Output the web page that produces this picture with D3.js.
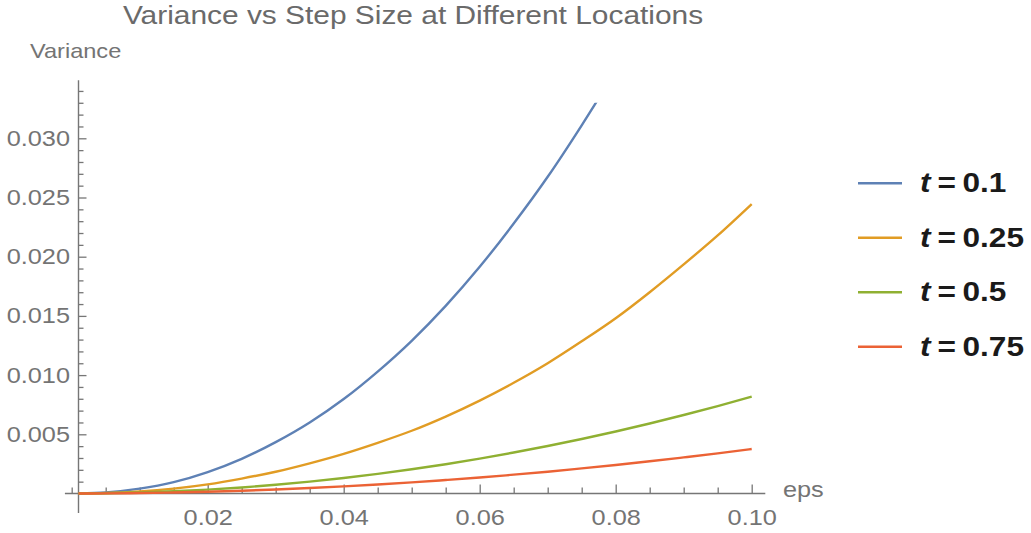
<!DOCTYPE html>
<html>
<head>
<meta charset="utf-8">
<script src="https://cdn.jsdelivr.net/npm/d3@7"></script>
<style>
  body { margin: 0; background: #fff; }
  text { font-family: "Liberation Sans", Arial, sans-serif; }
</style>
</head>
<body>
<svg class="chart"></svg>
<script>
// Step sizes (eps) shared by all series
var epsValues = [0.001, 0.005, 0.01, 0.015, 0.02, 0.025, 0.03, 0.035, 0.04, 0.045,
                 0.05, 0.055, 0.06, 0.065, 0.07, 0.075, 0.08, 0.085, 0.09, 0.095, 0.1];

// Variance (blue runs past the plot range and gets clipped)
var varT010 = [0.000003, 0.000092, 0.00041, 0.00096, 0.00181, 0.00293, 0.00434, 0.00600, 0.00798, 0.01030,
               0.01290, 0.01585, 0.01915, 0.02280, 0.02675, 0.03110, 0.03570, null, null, null, null];
var varT025 = [0.000001, 0.000039, 0.000173, 0.000414, 0.00077, 0.00126, 0.00184, 0.00255, 0.00335, 0.00428,
               0.00530, 0.00650, 0.00785, 0.00935, 0.01100, 0.01285, 0.01480, 0.01700, 0.01935, 0.02180, 0.02445];
var varT050 = [0.000001, 0.0000205, 0.000082, 0.000184, 0.000327, 0.000511, 0.000736, 0.00100, 0.00131, 0.00166,
               0.00205, 0.00247, 0.00294, 0.00346, 0.00401, 0.00460, 0.00524, 0.00591, 0.00663, 0.00738, 0.00818];
var varT075 = [0.0000004, 0.0000094, 0.0000376, 0.0000846, 0.00015, 0.000235, 0.000338, 0.000461, 0.000602, 0.000761,
               0.00094, 0.00114, 0.00135, 0.00159, 0.00184, 0.00212, 0.00241, 0.00272, 0.00305, 0.00339, 0.00376];

var seriesNames = ["0.1", "0.25", "0.5", "0.75"];
var seriesColors = ["#5e81b5", "#e19c24", "#8fb032", "#eb6235"];

var xMajorTicks = [0.02, 0.04, 0.06, 0.08, 0.10];
var xMinorTicks = [0, 0.005, 0.01, 0.015, 0.025, 0.03, 0.035, 0.045, 0.05, 0.055,
                   0.065, 0.07, 0.075, 0.085, 0.09, 0.095];
var yMajorTicks = [0.005, 0.010, 0.015, 0.020, 0.025, 0.030];
var yMinorTicks = d3.range(1, 35).filter(function(k) { return k % 5 !== 0; })
    .map(function(k) { return k / 1000; });

var width = 1031, height = 533,
    stretch = 1.15,          // glyphs in the source are a bit wider than Arial
    axisColor = "#767676",
    labelColor = "#747474";

// plot range (Mathematica style: data range plus padding)
var xMin = -0.001, xMax = 0.102, yMin = -0.00165, yMax = 0.0349, yClip = 0.033;

var x = d3.scaleLinear().domain([0, 0.1]).range([71.7, 751.7]);
var y = d3.scaleLinear().domain([0, 0.03]).range([493.5, 138.3]);

var svg = d3.select(".chart")
    .attr("width", width)
    .attr("height", height);

// Clip to the plot range
svg.append("clipPath")
    .attr("id", "plot-clip")
  .append("rect")
    .attr("x", x(xMin))
    .attr("y", y(yClip))
    .attr("width", x(xMax) - x(xMin))
    .attr("height", y(yMin) - y(yClip));

// x axis: ticks point up, labels below
var xAxisG = svg.append("g").attr("transform", "translate(0," + y(0) + ")");
xAxisG.append("g")
    .call(d3.axisTop(x).tickValues(xMinorTicks).tickSize(6).tickFormat(""));
xAxisG.append("g")
    .call(d3.axisTop(x).tickValues(xMajorTicks).tickSize(9).tickFormat(""));
xAxisG.append("g")
    .attr("class", "xlabels")
    .call(d3.axisBottom(x).tickValues(xMajorTicks).tickSize(0).tickPadding(16)
      .tickFormat(d3.format(".2f")));
xAxisG.append("line")
    .attr("x1", x(xMin)).attr("x2", x(xMax))
    .attr("stroke", axisColor).attr("stroke-width", 1.4);

// y axis sits at eps = 0.001
var yAxisG = svg.append("g").attr("transform", "translate(" + x(0.001) + ",0)");
yAxisG.append("g")
    .call(d3.axisRight(y).tickValues(yMinorTicks).tickSize(5).tickFormat(""));
yAxisG.append("g")
    .call(d3.axisRight(y).tickValues(yMajorTicks).tickSize(8).tickFormat(""));
yAxisG.append("g")
    .attr("class", "ylabels")
    .call(d3.axisLeft(y).tickValues(yMajorTicks).tickSize(0).tickPadding(7.4)
      .tickFormat(d3.format(".3f")));
yAxisG.append("line")
    .attr("y1", y(yMin)).attr("y2", y(yMax))
    .attr("stroke", axisColor).attr("stroke-width", 1.4);

svg.selectAll(".domain").remove();
svg.selectAll(".tick line").attr("stroke", axisColor).attr("stroke-width", 1.3);
svg.selectAll(".xlabels text, .ylabels text")
    .attr("fill", labelColor)
    .style("font-size", "22px")
    .style("font-family", "'Liberation Sans', Arial, sans-serif")
    .attr("transform", "scale(" + stretch + ",1)");

// Curves
var line = d3.line()
    .defined(function(d) { return d.v !== null; })
    .x(function(d) { return x(d.eps); })
    .y(function(d) { return y(d.v); })
    .curve(d3.curveMonotoneX);

var allSeries = [varT010, varT025, varT050, varT075];

svg.append("g")
    .attr("clip-path", "url(#plot-clip)")
  .selectAll(".curve")
    .data(allSeries)
    .enter().append("path")
    .attr("class", "curve")
    .attr("fill", "none")
    .attr("stroke", function(d, i) { return seriesColors[i]; })
    .attr("stroke-width", 2.4)
    .attr("d", function(vals) {
      return line(epsValues.map(function(e, j) { return {eps: e, v: vals[j]}; }));
    });

// Text helper with horizontal stretch
function wideText(px, py, str, size, color, anchor) {
  return svg.append("text")
      .attr("transform", "translate(" + px + "," + py + ") scale(" + stretch + ",1)")
      .attr("text-anchor", anchor || "start")
      .attr("fill", color)
      .style("font-size", size + "px")
      .text(str);
}

// Title and axis labels
wideText(413, 23.5, "Variance vs Step Size at Different Locations", 26, "#6a6a6a", "middle");
wideText(30, 57.5, "Variance", 20.5, labelColor);
wideText(783, 497, "eps", 22, labelColor);

// Legend
var legend = svg.append("g").attr("class", "legend");
seriesNames.forEach(function(name, i) {
  var ly = 183.3 + i * 54.5;
  legend.append("line")
      .attr("x1", 858).attr("x2", 902)
      .attr("y1", ly).attr("y2", ly)
      .attr("stroke", seriesColors[i])
      .attr("stroke-width", 2.4);
  wideText(920, ly + 9, "t", 27.5, "#1a1a1a")
      .style("font-weight", "bold").style("font-style", "italic");
  wideText(937.5, ly + 9, "=", 27.5, "#1a1a1a").style("font-weight", "bold");
  wideText(962.5, ly + 9, name, 27.5, "#1a1a1a").style("font-weight", "bold");
});
</script>
</body>
</html>
